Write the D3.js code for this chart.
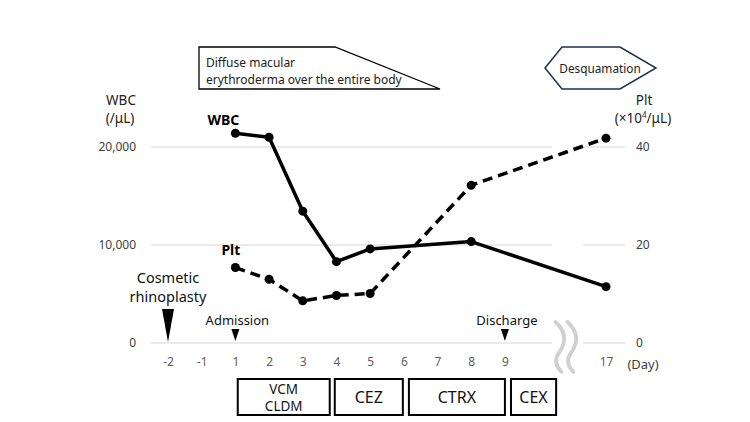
<!DOCTYPE html>
<html><head><meta charset="utf-8">
<script src="https://cdn.jsdelivr.net/npm/d3@7"></script>
<style>html,body{margin:0;padding:0;background:#fff;} svg{display:block;font-family:"Noto Sans","Open Sans",sans-serif;}</style>
</head><body><svg id="c" width="750" height="422"></svg>
<script>
// ---- data ----
const days = ["-2","-1","1","2","3","4","5","6","7","8","9","gapA","gapB","17"];
const dayLabels = ["-2","-1","1","2","3","4","5","6","7","8","9","","","17"];
const wbcDays = ["1","2","3","4","5","8","17"];
const wbcValues = [21400, 21000, 13450, 8300, 9600, 10350, 5750];
const pltDays = ["1","2","3","4","5","8","17"];
const pltValues = [15.4, 13.0, 8.6, 9.7, 10.1, 32.2, 41.8];
const leftTicks = [0, 10000, 20000];
const rightTicks = [0, 20, 40];
const drugNames = [["VCM","CLDM"],["CEZ"],["CTRX"],["CEX"]];
const drugStart = [2.07, 4.95, 7.15, 10.18];
const drugEnd = [4.8, 6.97, 10.0, 11.52];
const events = [{label:["Cosmetic","rhinoplasty"], day:"-2", big:true},{label:["Admission"], day:"1", big:false},{label:["Discharge"], day:"9", big:false}];

// ---- setup ----
const svg = d3.select("#c");
const x = d3.scalePoint().domain(days).range([168, 606]);
const step = x.step();
const xi = i => x(days[0]) + i*step;
const yL = d3.scaleLinear().domain([0, 20000]).range([343, 147]);
const yR = d3.scaleLinear().domain([0, 40]).range([343, 147]);
const plotL = 151, plotR = 625, breakL = 552, breakR = 583;

// gridlines (broken at the axis break)
const grid = svg.append("g");
leftTicks.forEach(t => {
  [[plotL, breakL],[breakR, plotR]].forEach(seg => {
    grid.append("line").attr("x1", seg[0]).attr("x2", seg[1])
      .attr("y1", yL(t)).attr("y2", yL(t))
      .attr("stroke", "#e3e3e3").attr("stroke-width", 1.3);
  });
});

// left axis
const axL = d3.axisLeft(yL).tickValues(leftTicks).tickSize(0).tickPadding(0).tickFormat(d3.format(","));
const gL = svg.append("g").attr("transform", "translate(136,0)").call(axL);
gL.select(".domain").remove();
gL.selectAll("text").attr("font-size", 12).attr("fill", "#404040").attr("font-family", "Noto Sans");
// right axis
const axR = d3.axisRight(yR).tickValues(rightTicks).tickSize(0).tickPadding(0);
const gR = svg.append("g").attr("transform", "translate(636,0)").call(axR);
gR.select(".domain").remove();
gR.selectAll("text").attr("font-size", 12).attr("fill", "#404040").attr("font-family", "Noto Sans");

// x axis labels
const axX = d3.axisBottom(x).tickSize(0).tickPadding(0).tickFormat((d,i) => dayLabels[i]);
const gX = svg.append("g").attr("transform", "translate(0,357)").call(axX);
gX.select(".domain").remove();
gX.selectAll("text").attr("font-size", 12).attr("fill", "#606060").attr("font-family", "Noto Sans");
svg.append("text").attr("x", 643).attr("y", 369).attr("text-anchor", "middle")
  .attr("font-size", 13).attr("fill", "#404040").text("(Day)");

// axis titles
svg.append("text").attr("x", 121).attr("y", 105).attr("text-anchor", "middle").attr("font-size", 13.5).attr("fill", "#222").text("WBC");
svg.append("text").attr("x", 120).attr("y", 123).attr("text-anchor", "middle").attr("font-size", 13.5).attr("fill", "#222").text("(/μL)");
svg.append("text").attr("x", 644).attr("y", 105).attr("text-anchor", "middle").attr("font-size", 13.5).attr("fill", "#222").text("Plt");
const pt = svg.append("text").attr("x", 643).attr("y", 123).attr("text-anchor", "middle").attr("font-size", 13.5).attr("fill", "#222");
pt.append("tspan").text("(×10");
pt.append("tspan").attr("font-size", 8).attr("dy", -5).text("4");
pt.append("tspan").attr("dy", 5).text("/μL)");

// axis break squiggle
const sq = svg.append("g").attr("fill", "none").attr("stroke", "#d0d0d0").attr("stroke-width", 3.8).attr("stroke-linecap", "round");
const sx = (x("9") + x("17")) / 2 + 3;
[0, 12].forEach(o => {
  sq.append("path").attr("d", `M${sx+o-3},322 C${sx+o+8},332 ${sx+o+8},342 ${sx+o+1},352 C${sx+o-5},360 ${sx+o-2},367 ${sx+o+3},372`);
});

// lines
const wbcPts = wbcDays.map((d,i) => [x(d), yL(wbcValues[i])]);
const pltPts = pltDays.map((d,i) => [x(d), yR(pltValues[i])]);
svg.append("path").attr("d", d3.line()(wbcPts)).attr("fill", "none").attr("stroke", "#000").attr("stroke-width", 3.5).attr("stroke-linejoin", "round");
svg.append("path").attr("d", d3.line()(pltPts)).attr("fill", "none").attr("stroke", "#000").attr("stroke-width", 3.5).attr("stroke-dasharray", "10,6");
svg.append("g").selectAll("circle").data(wbcPts.concat(pltPts)).join("circle")
  .attr("cx", d => d[0]).attr("cy", d => d[1]).attr("r", 4.5).attr("fill", "#000");

// series labels
svg.append("text").attr("x", x("1") - 28).attr("y", yL(wbcValues[0]) - 8).attr("font-size", 14).attr("font-weight", "bold").text("WBC");
svg.append("text").attr("x", x("1") - 14).attr("y", yR(pltValues[0]) - 13).attr("font-size", 14).attr("font-weight", "bold").text("Plt");

// events
events.forEach(e => {
  const cx = x(e.day);
  if (e.big) {
    svg.append("path").attr("d", `M${cx-6},309 L${cx+6},309 L${cx},342 Z`).attr("fill", "#000");
    e.label.forEach((l, i) => svg.append("text").attr("x", cx).attr("y", 283 + i*19).attr("text-anchor", "middle").attr("font-size", 14.5).attr("fill", "#111").text(l));
  } else {
    svg.append("path").attr("d", `M${cx-4},329 L${cx+4},329 L${cx},341 Z`).attr("fill", "#000");
    svg.append("text").attr("x", cx + 2).attr("y", 325).attr("text-anchor", "middle").attr("font-size", 13).attr("fill", "#111").text(e.label[0]);
  }
});

// drug boxes
const dg = svg.append("g");
drugNames.forEach((n, i) => {
  const x0 = xi(drugStart[i]), x1 = xi(drugEnd[i]);
  dg.append("rect").attr("x", x0).attr("y", 379).attr("width", x1 - x0).attr("height", 36)
    .attr("fill", "#fff").attr("stroke", "#000").attr("stroke-width", 2);
  n.forEach((t, j) => {
    const yy = n.length === 1 ? 403 : 394 + j*17;
    dg.append("text").attr("x", (x0 + x1) / 2).attr("y", yy).attr("text-anchor", "middle")
      .attr("font-size", n.length === 1 ? 16 : 13.5).attr("fill", "#111").text(t);
  });
});

// erythroderma annotation box
svg.append("path").attr("d", "M199,47 L335,47 L440,89 L199,89 Z").attr("fill", "#fff").attr("stroke", "#000").attr("stroke-width", 1.3);
svg.append("text").attr("x", 206).attr("y", 67).attr("font-size", 12).attr("fill", "#222").text("Diffuse macular");
svg.append("text").attr("x", 206).attr("y", 83.5).attr("font-size", 12).attr("fill", "#222").text("erythroderma over the entire body");

// desquamation hexagon
svg.append("path").attr("d", "M545,68 L562,47 L620,47 L656,68 L620,89 L562,89 Z").attr("fill", "#fff").attr("stroke", "#1f3050").attr("stroke-width", 1.5);
svg.append("text").attr("x", 600).attr("y", 72.5).attr("text-anchor", "middle").attr("font-size", 11.8).attr("fill", "#222").text("Desquamation");
</script>
</body></html>
